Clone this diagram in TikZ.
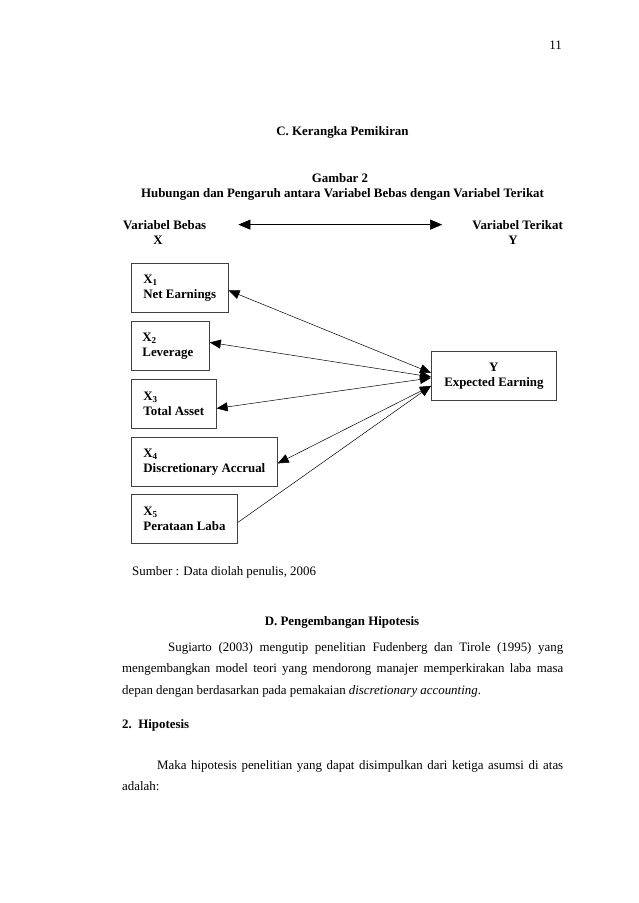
\documentclass[tikz,border=0pt]{standalone}
\usepackage{fontspec}
\setmainfont{Liberation Serif}
\usetikzlibrary{arrows.meta}

\tikzset{
    varbox/.style={draw=black!75, line width=0.8pt, anchor=north west, minimum height=49pt,
        inner xsep=12pt, align=left, font=\bfseries\fontsize{12.9}{15}\selectfont},
    link/.style={line width=0.5pt, {Triangle[length=11pt,width=9pt]}-{Triangle[length=11pt,width=9pt]}},
    body/.style={anchor=base west, inner sep=0pt, font=\fontsize{12.9}{21.5}\selectfont},
    title/.style={anchor=base, inner sep=0pt, font=\bfseries\fontsize{12.9}{15}\selectfont},
}

\begin{document}
\begin{tikzpicture}[x=1pt, y=-1pt]
        \useasboundingbox[fill=white] (0,0) rectangle (638,903);

        % page head
        \node[body, anchor=base east] (page) at (562,49) {11};
        \node[title] (sect) at (342.5,135) {C. Kerangka Pemikiran};
        \node[title] (fig) at (340,182) {Gambar 2};
        \node[title] (caption) at (342.5,197) {Hubungan dan Pengaruh antara Variabel Bebas dengan Variabel Terikat};

        % variables X and Y
        \node[title, anchor=base west] (bebas) at (123,229) {Variabel Bebas};
        \node[title] (bebasx) at (158,244) {X};
        \node[title, anchor=base east] (terikat) at (563,229) {Variabel Terikat};
        \node[title] (terikaty) at (513,244) {Y};
        \draw [line width=0.5pt, {Triangle[length=12pt,width=10pt]}-{Triangle[length=12pt,width=10pt]},
            shorten <=32pt, shorten >=30pt] (bebas) -- (terikat);

        \node[varbox] (x1) at (131,263) {X\textsubscript{1}\\Net Earnings};
        \node[varbox, inner xsep=0pt, text width=78pt] (x2) at (131,321) {\hspace*{11pt}X\textsubscript{2}\\\hspace*{11pt}Leverage};
        \node[varbox] (x3) at (131,379) {X\textsubscript{3}\\Total Asset};
        \node[varbox] (x4) at (131,437) {X\textsubscript{4}\\Discretionary Accrual};
        \node[varbox] (x5) at (131,494) {X\textsubscript{5}\\Perataan Laba};
        \node[varbox, minimum width=125pt, align=center] (y) at (431,351) {Y\\Expected Earning};

        \coordinate (yin) at ([yshift=-10pt]y.west);
        \draw [link] ([yshift=-2.5pt]x1.east) -- ([yshift=3pt]y.west);
        \draw [link] ([yshift=3.5pt]x2.east) -- ([yshift=-1pt]y.west);
        \draw [link] ([yshift=-4.5pt]x3.east) -- ([yshift=-2pt]y.west);
        \draw [link] ([yshift=-1.5pt]x4.east) -- (yin);
        \draw [line width=0.5pt, -{Triangle[length=11pt,width=9pt]}] ([yshift=-3.5pt]x5.east) -- (yin);

        \node[body] (source) at (132,575) {Sumber : Data diolah penulis, 2006};

        % section D
        \node[title] (secd) at (342,625) {D. Pengembangan Hipotesis};
        \node[body, text width=441pt, align=justify] (para1) at (122,651)
            {\hspace*{46pt}Sugiarto (2003) mengutip penelitian Fudenberg dan Tirole (1995) yang\linebreak
            mengembangkan model teori yang mendorong manajer memperkirakan laba masa\linebreak
            depan dengan berdasarkan pada pemakaian \textit{discretionary accounting}.};

        \node[title, anchor=base west] (sec2) at (122,728) {2.\ \ Hipotesis};
        \node[body, text width=441pt, align=justify] (para2) at (122,769)
            {\hspace*{35pt}Maka hipotesis penelitian yang dapat disimpulkan dari ketiga asumsi di atas\linebreak
            adalah:};
    \end{tikzpicture}
\end{document}
